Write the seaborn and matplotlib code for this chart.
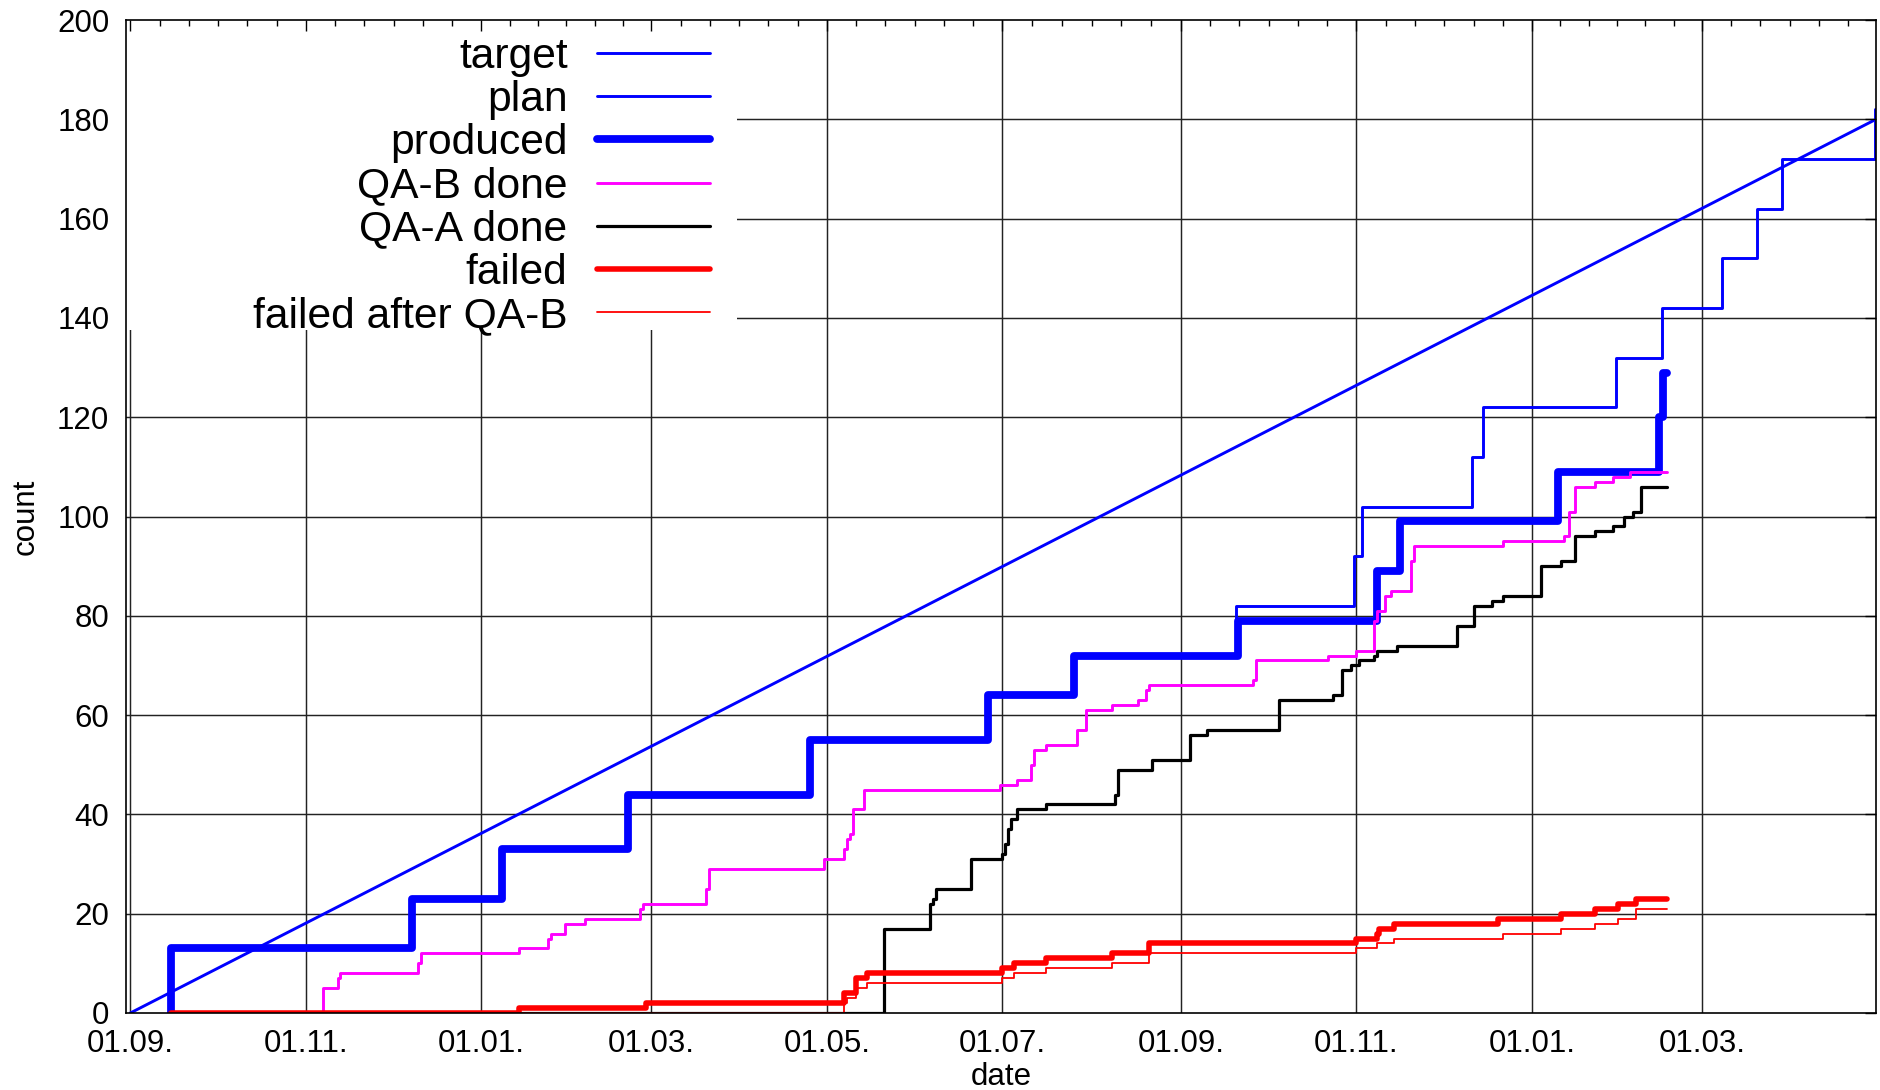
import numpy as np
import pandas as pd
import matplotlib
matplotlib.use("Agg")
import matplotlib.pyplot as plt
import matplotlib.dates as mdates
from matplotlib.patches import Rectangle
import seaborn as sns

# ---------------- data ----------------
target_dates = ['2013-09-01', '2015-04-30 12:00']
target_vals = [0, 180]

plan_dates = ['2013-09-15', '2013-09-15', '2013-12-08', '2014-01-08', '2014-02-21',
              '2014-04-25', '2014-06-26', '2014-07-26', '2014-09-20', '2014-10-31',
              '2014-11-03', '2014-12-11', '2014-12-15', '2015-01-30', '2015-02-15',
              '2015-03-08', '2015-03-20', '2015-03-29', '2015-04-30 06:00']
plan_vals = [0, 13, 23, 33, 44, 55, 64, 72, 82, 92, 102, 112, 122, 132, 142,
             152, 162, 172, 182]

produced_dates = ['2013-09-15', '2013-09-15', '2013-12-08', '2014-01-08', '2014-02-21',
                  '2014-04-25', '2014-06-26', '2014-07-26', '2014-09-21', '2014-11-08',
                  '2014-11-16', '2015-01-10', '2015-02-14', '2015-02-15 12:00', '2015-02-17']
produced_vals = [0, 13, 23, 33, 44, 55, 64, 72, 79, 89, 99, 109, 120, 129, 129]

qab_dates = ['2013-09-15', '2013-11-07', '2013-11-12', '2013-11-13', '2013-12-10',
             '2013-12-11', '2014-01-14', '2014-01-24', '2014-01-25', '2014-01-30',
             '2014-02-06', '2014-02-25', '2014-02-26', '2014-03-20', '2014-03-21',
             '2014-04-30', '2014-05-07', '2014-05-08', '2014-05-09', '2014-05-10',
             '2014-05-14', '2014-06-30', '2014-07-06', '2014-07-11', '2014-07-12',
             '2014-07-16', '2014-07-27', '2014-07-30', '2014-08-08', '2014-08-17',
             '2014-08-20', '2014-08-21', '2014-09-26', '2014-09-27', '2014-10-22',
             '2014-11-01', '2014-11-07', '2014-11-08', '2014-11-11', '2014-11-13',
             '2014-11-20', '2014-11-21', '2014-12-22', '2015-01-12', '2015-01-14',
             '2015-01-16', '2015-01-23', '2015-01-29', '2015-02-04', '2015-02-17']
qab_vals = [0, 5, 7, 8, 10, 12, 13, 15, 16, 18, 19, 21, 22, 25, 29, 31, 33, 35, 36, 41,
            45, 46, 47, 50, 53, 54, 57, 61, 62, 63, 65, 66, 67, 71, 72, 73, 79, 81, 84,
            85, 91, 94, 95, 96, 101, 106, 107, 108, 109, 109]

qaa_dates = ['2013-09-15', '2014-05-21', '2014-06-06', '2014-06-07', '2014-06-08',
             '2014-06-20', '2014-07-01', '2014-07-02', '2014-07-03', '2014-07-04',
             '2014-07-06', '2014-07-16', '2014-08-09', '2014-08-10', '2014-08-22',
             '2014-09-04', '2014-09-10', '2014-10-05', '2014-10-24', '2014-10-27',
             '2014-10-30', '2014-11-02', '2014-11-07', '2014-11-08', '2014-11-15',
             '2014-12-06', '2014-12-12', '2014-12-18', '2014-12-22', '2015-01-04',
             '2015-01-11', '2015-01-16', '2015-01-23', '2015-01-29', '2015-02-02',
             '2015-02-05', '2015-02-08', '2015-02-17']
qaa_vals = [0, 17, 22, 23, 25, 31, 32, 34, 37, 39, 41, 42, 44, 49, 51, 56, 57, 63, 64,
            69, 70, 71, 72, 73, 74, 78, 82, 83, 84, 90, 91, 96, 97, 98, 100, 101, 106, 106]

failed_dates = ['2013-09-15', '2014-01-14', '2014-02-27', '2014-05-07', '2014-05-11',
                '2014-05-15', '2014-07-01', '2014-07-05', '2014-07-16', '2014-08-08',
                '2014-08-21', '2014-11-01', '2014-11-08', '2014-11-09', '2014-11-14',
                '2014-12-20', '2015-01-11', '2015-01-23', '2015-01-31', '2015-02-06',
                '2015-02-17']
failed_vals = [0, 1, 2, 4, 7, 8, 9, 10, 11, 12, 14, 15, 16, 17, 18, 19, 20, 21, 22, 23, 23]

failed_b_dates = ['2013-09-15', '2014-05-07', '2014-05-08', '2014-05-11', '2014-05-15',
                  '2014-07-01', '2014-07-05', '2014-07-16', '2014-08-08', '2014-08-21',
                  '2014-11-01', '2014-11-08', '2014-11-14', '2014-12-22', '2015-01-11',
                  '2015-01-23', '2015-01-31', '2015-02-06', '2015-02-17']
failed_b_vals = [0, 2, 3, 5, 6, 7, 8, 9, 10, 12, 13, 14, 15, 16, 17, 18, 19, 21, 21]

y_ticks = [0, 20, 40, 60, 80, 100, 120, 140, 160, 180, 200]
x_limits = ['2013-08-30 12:00', '2015-04-30 12:00']

# ---------------- style ----------------
sns.set_style("white")
plt.rcParams['font.family'] = ['Liberation Sans', 'DejaVu Sans']
plt.rcParams['text.color'] = 'black'
plt.rcParams['axes.labelcolor'] = 'black'

fig = plt.figure(figsize=(18.8, 10.9), dpi=100)
ax = fig.add_axes([126 / 1880, 1 - 1013 / 1090, 1750 / 1880, 993 / 1090])

series = [
    ("target", target_dates, target_vals, "#0000ff", 2.1, "default"),
    ("plan", plan_dates, plan_vals, "#0000ff", 2.1, "steps-post"),
    ("produced", produced_dates, produced_vals, "#0000ff", 5.6, "steps-post"),
    ("QA-B done", qab_dates, qab_vals, "#ff00ff", 2.1, "steps-post"),
    ("QA-A done", qaa_dates, qaa_vals, "#000000", 2.3, "steps-post"),
    ("failed", failed_dates, failed_vals, "#ff0000", 4.0, "steps-post"),
    ("failed after QA-B", failed_b_dates, failed_b_vals, "#ff0000", 1.3, "steps-post"),
]

for i, (lab, d, v, col, lw, ds) in enumerate(series):
    df = pd.DataFrame({"date": pd.to_datetime(d, format="mixed"), "count": v})
    sns.lineplot(data=df, x="date", y="count", estimator=None, sort=False,
                 color=col, linewidth=lw, drawstyle=ds, label=lab, ax=ax,
                 zorder=2 + i * 0.01)

xmin, xmax = pd.to_datetime(x_limits, format="mixed")
ax.set_xlim(xmin, xmax)
ax.set_ylim(0, 200)
ax.set_yticks(y_ticks)

ax.xaxis.set_major_locator(mdates.MonthLocator(bymonth=[1, 3, 5, 7, 9, 11], bymonthday=1))
ax.xaxis.set_major_formatter(mdates.DateFormatter('%d.%m.'))

# minor ticks: 6 subdivisions of each two-month interval
majors = pd.date_range('2013-09-01', '2015-05-01', freq='2MS')
mnums = mdates.date2num(majors.to_pydatetime())
minor = []
for a, b in zip(mnums[:-1], mnums[1:]):
    for k in range(1, 6):
        minor.append(a + (b - a) * k / 6)
xl = mdates.date2num([xmin.to_pydatetime(), xmax.to_pydatetime()])
minor = [m for m in minor if xl[0] < m < xl[1]]
ax.xaxis.set_minor_locator(matplotlib.ticker.FixedLocator(minor))

# grid lines at major ticks
for t in mnums:
    if xl[0] < t < xl[1]:
        ax.axvline(t, color="#222222", lw=1.05, zorder=0.5)
for yv in y_ticks[1:-1]:
    ax.axhline(yv, color="#222222", lw=1.05, zorder=0.5)

# opaque key area
ax.add_patch(Rectangle((0, 0.688), 0.349, 0.32, transform=ax.transAxes,
                       facecolor="white", edgecolor="none", zorder=0.8))

ax.set_axisbelow(False)
for s in ax.spines.values():
    s.set_color("black")
    s.set_linewidth(1.2)
    s.set_zorder(3)

ax.tick_params(axis="both", which="both", direction="in", top=True, right=True,
               colors="black", labelcolor="black")
ax.tick_params(axis="both", which="major", length=8, width=1.0, labelsize=22.5)
ax.tick_params(axis="both", which="minor", length=4, width=1.0)
ax.tick_params(axis="x", which="major", pad=11.5)
ax.tick_params(axis="y", which="major", pad=12)

ax.set_xlabel("date", fontsize=22.5, labelpad=2, color="black")
ax.set_ylabel("count", fontsize=22.5, labelpad=12, color="black")

handles, labels = ax.get_legend_handles_labels()
leg = ax.legend(handles, labels, loc="upper right", bbox_to_anchor=(0.3337, 0.983),
                borderpad=0, borderaxespad=0, frameon=False, markerfirst=False,
                handlelength=2.64, handletextpad=0.7, labelspacing=0.075, fontsize=30.7,
                labelcolor="black")
leg.set_zorder(4)

fig.savefig("out.png", dpi=100)
